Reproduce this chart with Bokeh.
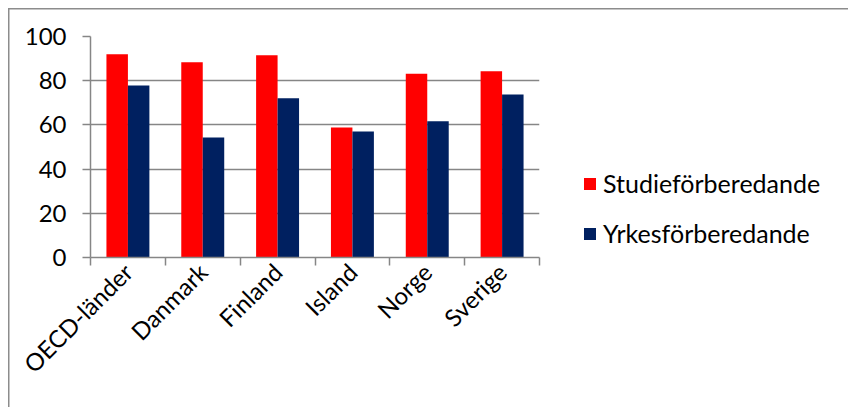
import math
from bokeh.plotting import figure
from bokeh.models import FixedTicker, Legend, LegendItem, ColumnDataSource
from bokeh.embed import file_html
from bokeh.resources import INLINE

categories = ["OECD-länder", "Danmark", "Finland", "Island", "Norge", "Sverige"]
studie = [92.0, 88.4, 91.5, 58.8, 83.1, 84.3]
yrkes = [77.8, 54.3, 72.1, 57.0, 61.7, 73.8]
series_names = ["Studieförberedande", "Yrkesförberedande"]
y_ticks = [0, 20, 40, 60, 80, 100]

FONT = "Lato"
FS = "24px"
GRAY = "#868686"

p = figure(frame_width=449, frame_height=221, output_backend="svg", toolbar_location=None,
           x_range=(0, len(categories)), y_range=(0, 100),
           min_border_left=90, min_border_right=10, min_border_top=36, min_border_bottom=150)
p.outline_line_color = None
p.background_fill_color = "white"
p.border_fill_color = None
p.styles = {
    "background-image": "linear-gradient(#8c8c8c, #8c8c8c), linear-gradient(#8c8c8c, #8c8c8c)",
    "background-position": "7.5px 7.5px, 7.5px 7.5px",
    "background-size": "1.5px 100%, 100% 1.5px",
    "background-repeat": "no-repeat, no-repeat",
}

centers = [i + 0.5 for i in range(len(categories))]
off = 0.1435
w = 0.287
src1 = ColumnDataSource(dict(x=[c - off for c in centers], top=studie))
src2 = ColumnDataSource(dict(x=[c + off for c in centers], top=yrkes))
r1 = p.vbar(x="x", top="top", width=w, source=src1, fill_color="#FF0000", line_color=None)
r2 = p.vbar(x="x", top="top", width=w, source=src2, fill_color="#002060", line_color=None)

# y axis
p.yaxis.ticker = FixedTicker(ticks=y_ticks)
p.yaxis.axis_line_color = GRAY
p.yaxis.axis_line_width = 1.5
p.yaxis.major_tick_line_color = GRAY
p.yaxis.major_tick_line_width = 1.5
p.yaxis.major_tick_out = 8
p.yaxis.major_tick_in = 0
p.yaxis.minor_tick_line_color = None
p.yaxis.major_label_text_font = FONT
p.yaxis.major_label_text_font_size = FS
p.yaxis.major_label_text_color = "black"
p.yaxis.major_label_standoff = 16

# x axis
p.xaxis.ticker = FixedTicker(ticks=centers, minor_ticks=list(range(len(categories) + 1)))
p.xaxis.major_label_overrides = {c: n for c, n in zip(centers, categories)}
p.xaxis.axis_line_color = GRAY
p.xaxis.axis_line_width = 1.5
p.xaxis.major_tick_line_color = None
p.xaxis.minor_tick_line_color = GRAY
p.xaxis.minor_tick_line_width = 1.5
p.xaxis.minor_tick_out = 8
p.xaxis.minor_tick_in = 0
p.xaxis.major_label_orientation = math.pi / 4
p.xaxis.major_label_text_font = FONT
p.xaxis.major_label_text_font_size = FS
p.xaxis.major_label_text_color = "black"
p.xaxis.major_label_standoff = 2

p.xgrid.grid_line_color = None
p.ygrid.ticker = FixedTicker(ticks=y_ticks)
p.ygrid.grid_line_color = GRAY
p.ygrid.grid_line_width = 1.5

legend = Legend(items=[LegendItem(label=series_names[0], renderers=[r1]),
                       LegendItem(label=series_names[1], renderers=[r2])],
                location=(43, 9), orientation="vertical",
                padding=0, margin=0, spacing=20, border_line_color=None,
                background_fill_alpha=0,
                glyph_width=15, glyph_height=15, label_standoff=6,
                label_text_font=FONT, label_text_font_size="25px", label_text_color="black")
p.add_layout(legend, "right")

open("out.html", "w").write(file_html(p, INLINE))
